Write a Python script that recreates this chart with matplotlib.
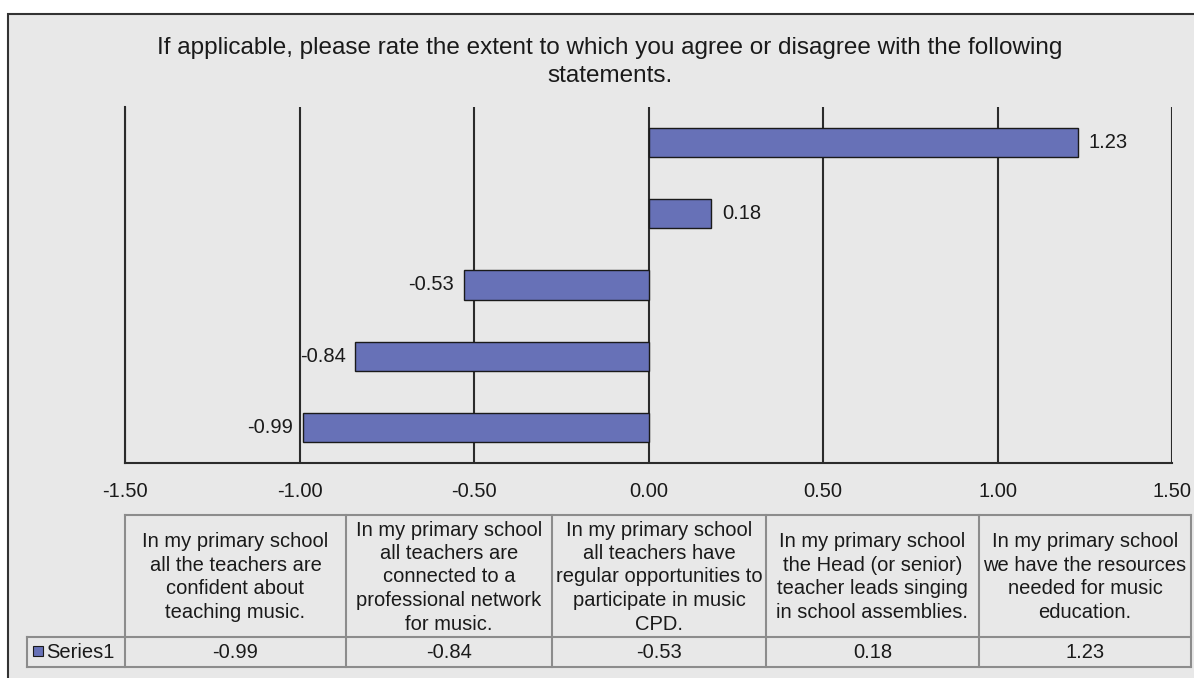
import matplotlib
matplotlib.use('Agg')
import matplotlib.pyplot as plt
from matplotlib.patches import Rectangle

plt.rcParams['font.family'] = ['Liberation Sans', 'DejaVu Sans']

# Chart data
statements = [
    "In my primary school\nall the teachers are\nconfident about\nteaching music.",
    "In my primary school\nall teachers are\nconnected to a\nprofessional network\nfor music.",
    "In my primary school\nall teachers have\nregular opportunities to\nparticipate in music\nCPD.",
    "In my primary school\nthe Head (or senior)\nteacher leads singing\nin school assemblies.",
    "In my primary school\nwe have the resources\nneeded for music\neducation.",
]
values = [-0.99, -0.84, -0.53, 0.18, 1.23]
series_name = "Series1"
x_ticks = [-1.5, -1.0, -0.5, 0.0, 0.5, 1.0, 1.5]
title = ("If applicable, please rate the extent to which you agree or disagree with the following\n"
         "statements.")

W, H = 1194, 678
bar_color = '#6771b7'
bg = '#e8e8e8'
fs = 14.5

fig = plt.figure(figsize=(W / 100, H / 100), dpi=100)
fig.patch.set_facecolor('white')

# overlay axes in pixel coords for frame and data table
lay = fig.add_axes([0, 0, 1, 1], zorder=0)
lay.set_xlim(0, W)
lay.set_ylim(H, 0)
lay.axis('off')
lay.add_patch(Rectangle((8, 14), W + 20, H + 20, facecolor=bg, edgecolor='#333333', lw=1.5))

# main bar axes
left, right, top, bottom = 125, 1172, 107, 463
ax = fig.add_axes([left / W, 1 - bottom / H, (right - left) / W, (bottom - top) / H], zorder=1)
ax.patch.set_alpha(0)
ypos = list(range(len(values)))
ax.barh(ypos, values, height=0.41, color=bar_color, edgecolor='#1a1a1a', linewidth=1.0, zorder=3)
ax.set_xlim(x_ticks[0], x_ticks[-1])
ax.set_ylim(-0.5, len(values) - 0.5)
ax.set_xticks(x_ticks)
ax.set_xticklabels([f"{t:.2f}" for t in x_ticks], fontsize=fs)
ax.set_yticks([])
for t in x_ticks:
    ax.axvline(t, color='#2b2b2b', lw=1.5, zorder=1)
for s in ['top', 'right']:
    ax.spines[s].set_visible(False)
ax.spines['left'].set_color('#2b2b2b')
ax.spines['left'].set_linewidth(1.5)
ax.spines['bottom'].set_color('#2b2b2b')
ax.spines['bottom'].set_linewidth(1.5)
ax.tick_params(axis='x', length=0, pad=14, colors='#1a1a1a')

for y, v in zip(ypos, values):
    off = 8 if v >= 0 else -7
    ax.annotate(f"{v:.2f}", (v, y), xytext=(off, 0), textcoords='offset points',
                ha='left' if v >= 0 else 'right', va='center', fontsize=fs, color='#1a1a1a')

fig.text(610 / W, 1 - 62 / H, title, ha='center', va='center', fontsize=17.5,
         linespacing=1.38, color='#1a1a1a')

# data table under the axis
col_edges = [125, 346, 552, 766, 979, 1191]
t_top, t_mid, t_bot = 515, 637, 667
lab_left = 27
grid_c = '#8c8c8c'
lay.plot([col_edges[0], col_edges[-1]], [t_top, t_top], color=grid_c, lw=1.5)
lay.plot([lab_left, col_edges[-1]], [t_mid, t_mid], color=grid_c, lw=1.5)
lay.plot([lab_left, col_edges[-1]], [t_bot, t_bot], color=grid_c, lw=1.5)
lay.plot([lab_left, lab_left], [t_mid, t_bot], color=grid_c, lw=1.5)
for xe in col_edges:
    lay.plot([xe, xe], [t_top, t_bot], color=grid_c, lw=1.5)

for i, (txt, v) in enumerate(zip(statements, values)):
    cx = (col_edges[i] + col_edges[i + 1]) / 2
    lay.text(cx, (t_top + t_mid) / 2 + 1, txt, ha='center', va='center', fontsize=fs,
             linespacing=1.3, color='#1a1a1a')
    lay.text(cx, (t_mid + t_bot) / 2 + 1, f"{v:.2f}", ha='center', va='center', fontsize=fs,
             color='#1a1a1a')

lay.add_patch(Rectangle((33, 646), 10, 10, facecolor=bar_color, edgecolor='#1a1a1a', lw=0.8))
lay.text(46, (t_mid + t_bot) / 2 + 1, series_name, ha='left', va='center', fontsize=fs,
         color='#1a1a1a')

fig.savefig('out.png', dpi=100, facecolor='white')
